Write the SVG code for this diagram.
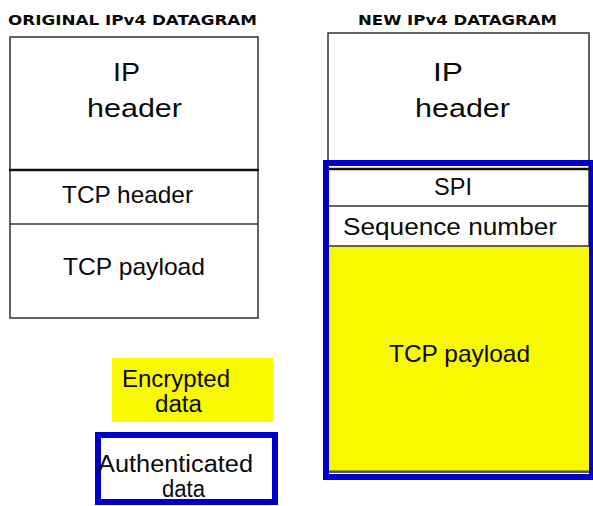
<svg xmlns="http://www.w3.org/2000/svg" width="593" height="506" viewBox="0 0 593 506">
<style>
.t{font-family:"Liberation Sans",Arial,sans-serif;fill:#0a0a0a;}
.ttl{font-family:"DejaVu Sans","Liberation Sans",Arial,sans-serif;font-weight:bold;font-size:14px;fill:#0a0a0a;}
.box{fill:#fff;stroke:#333;stroke-width:1.5;}
.ln{stroke:#333;stroke-width:1.5;}
.blue{fill:none;stroke:#0000c8;stroke-width:6;}
</style>
<rect width="593" height="506" fill="#fff"/>
<g id="original">
<text class="ttl" x="8" y="25" textLength="249" lengthAdjust="spacingAndGlyphs">ORIGINAL IPv4 DATAGRAM</text>
<rect class="box" x="10" y="37" width="248" height="281"/>
<line x1="9" y1="170" x2="259" y2="170" stroke="#111" stroke-width="2.5"/>
<line class="ln" x1="10" y1="224" x2="258" y2="224"/>
<text class="t" x="113" y="81" font-size="26" textLength="27" lengthAdjust="spacingAndGlyphs">IP</text>
<text class="t" x="87" y="117" font-size="26" textLength="95" lengthAdjust="spacingAndGlyphs">header</text>
<text class="t" x="62" y="203" font-size="24" textLength="131" lengthAdjust="spacingAndGlyphs">TCP header</text>
<text class="t" x="63" y="275" font-size="24" textLength="142" lengthAdjust="spacingAndGlyphs">TCP payload</text>
</g>
<g id="new">
<text class="ttl" x="358" y="25" textLength="199" lengthAdjust="spacingAndGlyphs">NEW IPv4 DATAGRAM</text>
<rect class="box" x="328" y="33" width="261" height="439"/>
<rect x="329" y="246" width="260" height="225" fill="#f8f800"/>
<line x1="328" y1="169" x2="591" y2="169" stroke="#111" stroke-width="2.5"/>
<line class="ln" x1="328" y1="206" x2="590" y2="206"/>
<line class="ln" x1="328" y1="246" x2="590" y2="246"/>
<line x1="328" y1="471.5" x2="590" y2="471.5" stroke="#555" stroke-width="2"/>
<text class="t" x="433" y="81" font-size="26" textLength="30" lengthAdjust="spacingAndGlyphs">IP</text>
<text class="t" x="415" y="117" font-size="26" textLength="95" lengthAdjust="spacingAndGlyphs">header</text>
<text class="t" x="434" y="195" font-size="23" textLength="38" lengthAdjust="spacingAndGlyphs">SPI</text>
<text class="t" x="343" y="235" font-size="23" textLength="214" lengthAdjust="spacingAndGlyphs">Sequence number</text>
<text class="t" x="389" y="362" font-size="24" textLength="141" lengthAdjust="spacingAndGlyphs">TCP payload</text>
<rect class="blue" x="326" y="163" width="266" height="314"/>
</g>
<g id="legend-encrypted">
<rect x="112" y="358" width="161" height="64" fill="#f8f800"/>
<text class="t" x="122" y="387" font-size="23" textLength="108" lengthAdjust="spacingAndGlyphs">Encrypted</text>
<text class="t" x="155" y="412" font-size="23" textLength="47" lengthAdjust="spacingAndGlyphs">data</text>
</g>
<g id="legend-authenticated">
<rect x="98" y="435" width="177" height="67" fill="#fff" stroke="#0000c8" stroke-width="6"/>
<text class="t" x="98" y="472" font-size="23" textLength="155" lengthAdjust="spacingAndGlyphs">Authenticated</text>
<text class="t" x="162" y="497" font-size="23" textLength="43" lengthAdjust="spacingAndGlyphs">data</text>
</g>
<g id="connectors"></g>
</svg>
